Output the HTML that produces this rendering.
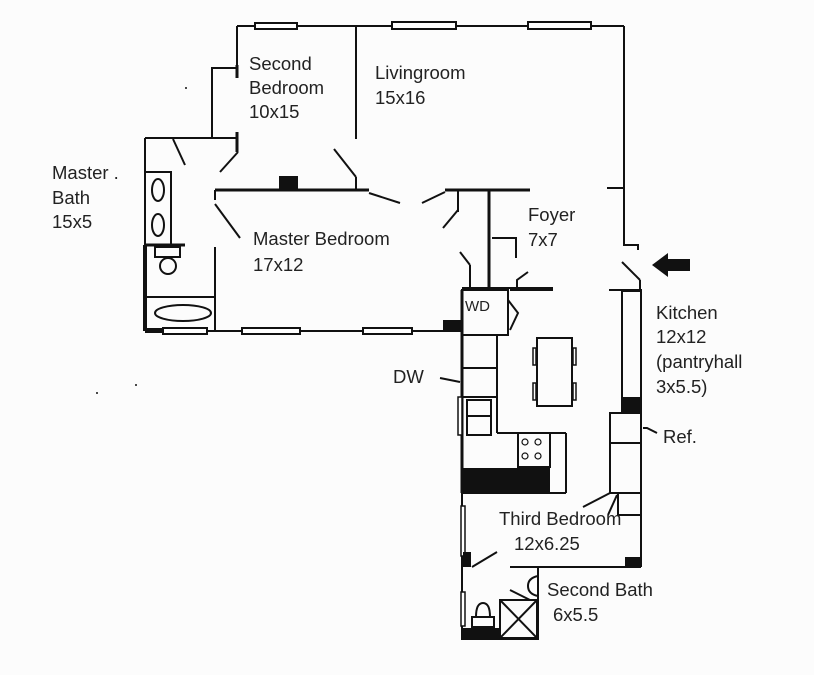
<!DOCTYPE html>
<html><head><style>
html,body{margin:0;padding:0;background:#fcfcfc;}
svg{display:block;}
text{font-family:"Liberation Sans",sans-serif;font-size:18.5px;fill:#222;}
</style></head><body>
<svg width="814" height="675" viewBox="0 0 814 675" xmlns="http://www.w3.org/2000/svg">
<g stroke="#111" stroke-width="2" fill="none">
<line x1="237" y1="26" x2="624" y2="26"/>
<rect x="255" y="23" width="42" height="6" fill="#fff"/>
<rect x="392" y="22" width="64" height="7" fill="#fff"/>
<rect x="528" y="22" width="63" height="7" fill="#fff"/>
<polyline points="624,26 624,245 638,245 638,250"/>
<line x1="607" y1="188" x2="624" y2="188"/>
<line x1="622" y1="262" x2="640" y2="280"/>
<line x1="640" y1="280" x2="640" y2="290"/>
<polyline points="237,26 237,68 212,68 212,138 237,138"/>
<line x1="237" y1="65" x2="237" y2="78" stroke-width="3"/>
<line x1="145" y1="138" x2="212" y2="138"/>
<line x1="237" y1="132" x2="237" y2="152" stroke-width="3"/>
<line x1="238" y1="152" x2="220" y2="172"/>
<line x1="356" y1="26" x2="356" y2="139"/>
<line x1="334" y1="149" x2="356" y2="177"/>
<line x1="356" y1="177" x2="356" y2="190"/>
<line x1="215" y1="190" x2="369" y2="190" stroke-width="3"/>
<line x1="369" y1="193" x2="400" y2="203"/>
<line x1="422" y1="203" x2="445" y2="192"/>
<line x1="445" y1="190" x2="530" y2="190" stroke-width="3"/>
<line x1="458" y1="190" x2="458" y2="212"/>
<line x1="458" y1="210" x2="443" y2="228"/>
<line x1="489" y1="190" x2="489" y2="290" stroke-width="3"/>
<polyline points="492,238 516,238 516,258"/>
<polyline points="517,290 517,280 528,272"/>
<line x1="510" y1="290" x2="553" y2="290"/>
<line x1="460" y1="252" x2="470" y2="265"/>
<line x1="470" y1="265" x2="470" y2="290"/>
<line x1="215" y1="190" x2="215" y2="200"/>
<line x1="215" y1="204" x2="240" y2="238"/>
<line x1="145" y1="138" x2="145" y2="245"/>
<line x1="145" y1="245" x2="145" y2="331" stroke-width="4"/>
<line x1="145" y1="245" x2="185" y2="245" stroke-width="3"/>
<rect x="145" y="172" width="26" height="73"/>
<ellipse cx="158" cy="190" rx="6" ry="11"/>
<ellipse cx="158" cy="225" rx="6" ry="11"/>
<rect x="155" y="247" width="25" height="10"/>
<circle cx="168" cy="266" r="8"/>
<line x1="173" y1="139" x2="185" y2="165"/>
<line x1="215" y1="247" x2="215" y2="331"/>
<line x1="145" y1="297" x2="215" y2="297"/>
<ellipse cx="183" cy="313" rx="28" ry="8"/>
<line x1="145" y1="331" x2="462" y2="331"/>
<rect x="163" y="328" width="44" height="6" fill="#fff"/>
<rect x="242" y="328" width="58" height="6" fill="#fff"/>
<rect x="363" y="328" width="49" height="6" fill="#fff"/>
<line x1="462" y1="288" x2="553" y2="288"/>
<rect x="462" y="290" width="46" height="45"/>
<polyline points="508,300 518,313 510,330"/>
<line x1="462" y1="290" x2="462" y2="493" stroke-width="3"/>
<line x1="497" y1="335" x2="497" y2="433"/>
<line x1="462" y1="368" x2="497" y2="368"/>
<line x1="462" y1="397" x2="497" y2="397"/>
<rect x="458" y="397" width="4" height="38" stroke-width="1.5" fill="#fff"/>
<rect x="467" y="400" width="24" height="35"/>
<line x1="467" y1="416" x2="491" y2="416"/>
<line x1="497" y1="433" x2="566" y2="433"/>
<rect x="518" y="433" width="32" height="34"/>
<line x1="566" y1="433" x2="566" y2="493"/>
<line x1="462" y1="493" x2="566" y2="493"/>
<rect x="537" y="338" width="35" height="68"/>
<rect x="533" y="348" width="3" height="17" stroke-width="1.5"/>
<rect x="533" y="383" width="3" height="17" stroke-width="1.5"/>
<rect x="573" y="348" width="3" height="17" stroke-width="1.5"/>
<rect x="573" y="383" width="3" height="17" stroke-width="1.5"/>
<line x1="460" y1="382" x2="440" y2="378"/>
<line x1="609" y1="290" x2="641" y2="290"/>
<rect x="622" y="290" width="19" height="123"/>
<line x1="641" y1="290" x2="641" y2="567"/>
<rect x="610" y="413" width="31" height="30"/>
<rect x="610" y="443" width="31" height="50"/>
<rect x="618" y="493" width="23" height="22"/>
<polyline points="643,428 647,428 657,433"/>
<line x1="583" y1="507" x2="610" y2="493"/>
<line x1="608" y1="515" x2="617" y2="495"/>
<line x1="462" y1="493" x2="462" y2="640"/>
<rect x="461" y="506" width="4" height="50" stroke-width="1.5" fill="#fff"/>
<line x1="472" y1="567" x2="497" y2="552"/>
<line x1="510" y1="567" x2="641" y2="567"/>
<line x1="538" y1="567" x2="538" y2="640"/>
<path d="M538,576 Q528,578 528,586 Q528,594 538,596"/>
<rect x="461" y="592" width="4" height="34" stroke-width="1.5" fill="#fff"/>
<line x1="462" y1="639" x2="538" y2="639"/>
<rect x="500" y="600" width="37" height="38"/>
<line x1="500" y1="600" x2="537" y2="638"/>
<line x1="537" y1="600" x2="500" y2="638"/>
<line x1="510" y1="590" x2="530" y2="600"/>
<rect x="472" y="617" width="22" height="10"/>
<path d="M476,617 Q476,603 483,603 Q490,603 490,617"/>
</g>
<g fill="#111">
<rect x="279" y="176" width="19" height="14"/>
<rect x="443" y="320" width="19" height="12"/>
<rect x="145" y="328" width="18" height="5"/>
<rect x="462" y="468" width="88" height="25"/>
<rect x="622" y="397" width="19" height="16"/>
<rect x="622" y="289" width="19" height="3"/>
<rect x="463" y="552" width="8" height="15"/>
<rect x="625" y="557" width="16" height="10"/>
<rect x="462" y="628" width="38" height="12"/>
<polygon points="652,265 668,253 668,259 690,259 690,271 668,271 668,277"/>
<circle cx="186" cy="88" r="1"/>
<circle cx="97" cy="393" r="1"/><circle cx="136" cy="385" r="1"/>
</g>
<g fill="none" stroke="#111" stroke-width="1.2">
<circle cx="525" cy="442" r="3"/><circle cx="538" cy="442" r="3"/>
<circle cx="525" cy="456" r="3"/><circle cx="538" cy="456" r="3"/>
</g>
<text x="249" y="70">Second</text>
<text x="249" y="94">Bedroom</text>
<text x="249" y="118">10x15</text>
<text x="375" y="79">Livingroom</text>
<text x="375" y="104">15x16</text>
<text x="253" y="245">Master Bedroom</text>
<text x="253" y="271">17x12</text>
<text x="528" y="221">Foyer</text>
<text x="528" y="246">7x7</text>
<text x="52" y="179">Master .</text>
<text x="52" y="204">Bath</text>
<text x="52" y="228">15x5</text>
<text x="656" y="319">Kitchen</text>
<text x="656" y="343">12x12</text>
<text x="656" y="368">(pantryhall</text>
<text x="656" y="393">3x5.5)</text>
<text x="393" y="383">DW</text>
<text x="663" y="443">Ref.</text>
<text x="465" y="311" style="font-size:15px">WD</text>
<text x="499" y="525">Third Bedroom</text>
<text x="514" y="550">12x6.25</text>
<text x="547" y="596">Second Bath</text>
<text x="553" y="621">6x5.5</text>
</svg>
</body></html>
